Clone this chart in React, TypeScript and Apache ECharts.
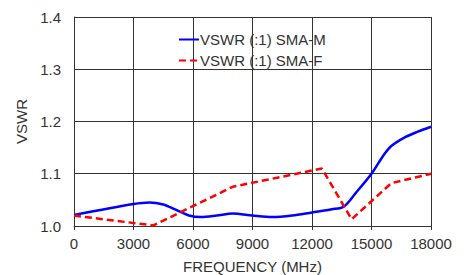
import React, { useEffect, useRef } from "react";
import * as echarts from "echarts";

const freqM = [0, 3000, 3800, 4500, 5200, 5800, 6400, 7200, 8000, 9000, 10000, 11000, 12000, 13000, 13600, 14200, 15000, 15600, 16000, 16700, 17300, 18000];
const vswrM = [1.021, 1.042, 1.045, 1.041, 1.030, 1.020, 1.017, 1.020, 1.024, 1.020, 1.017, 1.020, 1.026, 1.032, 1.037, 1.063, 1.100, 1.135, 1.153, 1.170, 1.180, 1.190];
const freqF = [0, 4000, 8000, 12500, 14000, 16000, 18000];
const vswrF = [1.020, 1.001, 1.075, 1.110, 1.013, 1.082, 1.100];
const seriesNames = ["VSWR (:1) SMA-M", "VSWR (:1) SMA-F"];
const xTitle = "FREQUENCY (MHz)";
const yTitle = "VSWR";

export default function App() {
  const ref = useRef<HTMLDivElement>(null);
  useEffect(() => {
    document.body.style.margin = "0";
    const chart = echarts.init(ref.current!, null, { renderer: "svg" });
    const font = "'Liberation Sans', Arial, sans-serif";
    const gridLine = { show: true, lineStyle: { color: "#333", width: 1 } };
    chart.setOption({
      animation: false,
      textStyle: { fontFamily: font },
      grid: { left: 74, right: 38, top: 17, bottom: 49, outerBoundsMode: "none", containLabel: false },
      legend: {
        orient: "vertical",
        left: 173,
        top: 27,
        itemWidth: 20,
        itemHeight: 14,
        itemGap: 6,
        itemStyle: { opacity: 0 },
        textStyle: { fontSize: 15, color: "#333", fontFamily: font, padding: [0, 0, 0, -4] },
        data: seriesNames,
      },
      xAxis: {
        type: "value",
        min: 0,
        max: 18000,
        interval: 3000,
        name: xTitle,
        nameLocation: "middle",
        nameGap: 33,
        nameTextStyle: { fontSize: 15, color: "#333", fontFamily: font },
        axisLine: { show: true, lineStyle: { color: "#333", width: 1 } },
        axisTick: { show: true, length: 4, lineStyle: { color: "#333" } },
        axisLabel: { fontSize: 15, color: "#333", margin: 10, fontFamily: font, formatter: (v: number) => String(v) },
        splitLine: gridLine,
      },
      yAxis: {
        type: "value",
        min: 1.0,
        max: 1.4,
        interval: 0.1,
        name: yTitle,
        nameLocation: "middle",
        nameGap: 38,
        nameTextStyle: { fontSize: 15, color: "#333", fontFamily: font },
        axisLine: { show: true, lineStyle: { color: "#333", width: 1 } },
        axisTick: { show: false },
        axisLabel: { fontSize: 15, color: "#333", margin: 13, fontFamily: font, formatter: (v: number) => v.toFixed(1) },
        splitLine: gridLine,
      },
      series: [
        {
          name: seriesNames[0],
          type: "line",
          smooth: 0.3,
          symbol: "none",
          lineStyle: { color: "#0000ff", width: 2.5 },
          itemStyle: { color: "#0000ff" },
          data: freqM.map((f, i) => [f, vswrM[i]]),
        },
        {
          name: seriesNames[1],
          type: "line",
          symbol: "none",
          lineStyle: { color: "#ff0000", width: 2.5, type: [7, 4] },
          itemStyle: { color: "#ff0000" },
          data: freqF.map((f, i) => [f, vswrF[i]]),
        },
      ],
    });
    return () => chart.dispose();
  }, []);
  return <div ref={ref} style={{ position: "absolute", left: 0, top: 0, width: 469, height: 275 }} />;
}
